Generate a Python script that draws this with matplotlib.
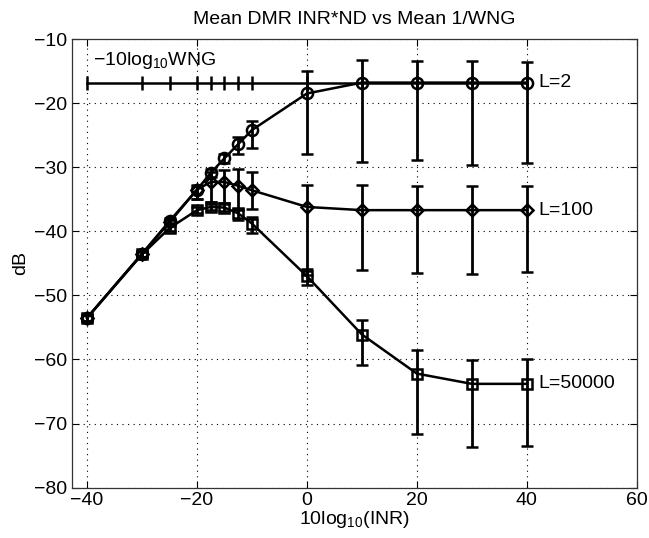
import matplotlib
matplotlib.use('Agg')
import matplotlib.pyplot as plt

plt.rcParams['font.family'] = ['Liberation Sans', 'DejaVu Sans']
plt.rcParams['mathtext.fontset'] = 'custom'
plt.rcParams['mathtext.rm'] = 'Liberation Sans'
plt.rcParams['mathtext.it'] = 'Liberation Sans:italic'

# INR in dB
inr = [-40, -30, -25, -20, -17.5, -15, -12.5, -10, 0, 10, 20, 30, 40]

# -10log10 WNG reference line
wng = [-16.8] * len(inr)

# L=2 (circles)
l2_mean = [-53.5, -43.5, -38.4, -33.5, -30.9, -28.6, -26.4, -24.2, -18.5, -16.8, -16.8, -16.8, -16.8]
l2_top = [-53.0, -43.0, -38.0, -32.8, -30.3, -27.9, -25.3, -22.8, -15.0, -13.2, -13.4, -13.5, -13.6]
l2_bot = [-54.0, -44.0, -38.8, -35.0, -31.5, -29.3, -28.0, -27.0, -28.0, -29.2, -28.9, -29.7, -29.3]

# L=100 (diamonds)
l100_mean = [-53.5, -43.5, -38.6, -33.5, -32.3, -32.3, -32.9, -33.6, -36.2, -36.7, -36.7, -36.7, -36.7]
l100_top = [-53.0, -43.0, -38.2, -32.9, -30.7, -30.5, -30.3, -30.7, -32.7, -32.8, -32.9, -32.9, -32.9]
l100_bot = [-54.0, -44.0, -39.0, -35.0, -35.4, -35.6, -36.7, -36.5, -46.8, -46.1, -46.5, -46.6, -46.4]

# L=50000 (squares)
l5e4_mean = [-53.5, -43.6, -39.5, -36.7, -36.2, -36.3, -37.2, -38.8, -47.0, -56.1, -62.2, -63.8, -63.8]
l5e4_top = [-53.0, -43.2, -39.1, -36.2, -35.7, -35.8, -36.5, -37.7, -45.9, -53.8, -58.5, -60.1, -60.0]
l5e4_bot = [-54.0, -44.0, -39.9, -37.2, -36.7, -36.8, -38.3, -40.2, -48.3, -60.8, -71.7, -73.7, -73.5]

series = [
    ('L=2', l2_mean, l2_top, l2_bot, 'o', 8),
    ('L=100', l100_mean, l100_top, l100_bot, 'D', 6.5),
    ('L=50000', l5e4_mean, l5e4_top, l5e4_bot, 's', 6.5),
]

fig = plt.figure(figsize=(6.49, 5.38), dpi=100)
ax = fig.add_axes([0.1105, 0.0935, 0.8705, 0.834])

ax.plot(inr, wng, color='k', lw=1.8, marker='|', ms=10, mew=1.8)

for name, m, top, bot, mk, ms in series:
    lo = [a - b for a, b in zip(m, bot)]
    hi = [b - a for a, b in zip(m, top)]
    ax.errorbar(inr, m, yerr=[lo, hi], color='k', lw=1.8, elinewidth=2,
                capsize=4.5, capthick=2, marker=mk, ms=ms, mfc='none',
                mec='k', mew=1.8)
    ax.text(inr[-1] + 2.2, m[-1], name, fontsize=14, va='center', ha='left')

ax.text(-39, -13.3, r'$-$10log$_{10}$WNG', fontsize=14, va='center', ha='left')

ax.set_xlim(-42.8, 60)
ax.set_ylim(-80, -10)
ax.set_xticks([-40, -20, 0, 20, 40, 60])
ax.set_yticks(range(-80, -9, 10))
ax.grid(True, linestyle=(0, (1, 4)), color='k', lw=0.8)
ax.tick_params(direction='in', top=True, right=True, labelsize=14, length=5, width=0.8, pad=3)
for s in ax.spines.values():
    s.set_linewidth(0.9)
    s.set_color('#333333')

ax.set_title('Mean DMR INR*ND vs Mean 1/WNG', fontsize=14, pad=11)
ax.set_xlabel(r'10log$_{10}$(INR)', fontsize=14, labelpad=0)
ax.set_ylabel('dB', fontsize=14, labelpad=4)

fig.savefig('out.png', dpi=100)
